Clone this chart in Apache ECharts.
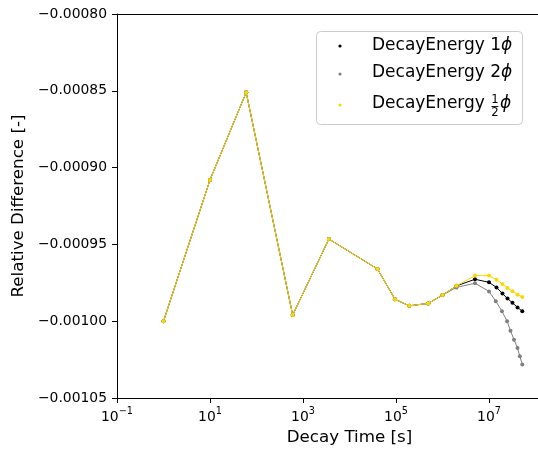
<!DOCTYPE html>
<html>
<head>
<meta charset="utf-8">
<script src="https://cdn.jsdelivr.net/npm/echarts@6/dist/echarts.min.js"></script>
<style>
  html, body { margin: 0; padding: 0; background: #fff; }
  #chart { width: 538px; height: 450px; }
</style>
</head>
<body>
<div id="chart"></div>
<script>
// Decay times [s] and relative differences for each flux scaling
const timesOne = [1, 10, 60, 600, 3600, 4e4, 9.5e4, 1.93e5, 4.95e5, 1e6, 2e6, 5e6, 1e7,
                  1.45e7, 1.95e7, 2.5e7, 3.2e7, 4.1e7, 5.2e7];
const valsOne = [-0.001000, -0.000908, -0.000851, -0.000996, -0.0009465, -0.000966, -0.0009857,
                 -0.000990, -0.0009884, -0.000983, -0.000977, -0.0009727, -0.0009747,
                 -0.000978, -0.000982, -0.0009853, -0.000988, -0.000991, -0.0009935];

const timesTwo = [1, 10, 60, 600, 3600, 4e4, 9.5e4, 1.93e5, 4.95e5, 1e6, 2e6, 5e6, 1e7,
                  1.4e7, 1.9e7, 2.45e7, 2.9e7, 3.45e7, 4.1e7, 4.6e7, 5.2e7];
const valsTwo = [-0.001000, -0.000908, -0.000851, -0.000996, -0.0009465, -0.000966, -0.0009857,
                 -0.000990, -0.0009884, -0.000983, -0.000978, -0.0009753, -0.0009806,
                 -0.000987, -0.0009935, -0.0010000, -0.0010062, -0.0010120, -0.0010174,
                 -0.0010228, -0.0010282];

const timesHalf = [1, 10, 60, 600, 3600, 4e4, 9.5e4, 1.93e5, 4.95e5, 1e6, 2e6, 5e6, 1e7,
                   1.45e7, 1.95e7, 2.5e7, 3.2e7, 4.1e7, 5.2e7];
const valsHalf = [-0.001000, -0.000908, -0.000851, -0.000996, -0.0009465, -0.000966, -0.0009857,
                  -0.000990, -0.0009884, -0.000983, -0.000977, -0.0009703, -0.0009703,
                  -0.000973, -0.0009758, -0.0009784, -0.0009805, -0.0009827, -0.0009842];

const seriesNames = ['DecayEnergy 1ϕ', 'DecayEnergy 2ϕ', 'DecayEnergy ½ϕ'];
const seriesColors = ['#000000', '#808080', '#FFD700'];

const FONT = 'DejaVu Sans';
const MINUS = '\u2212';

function pairs(xs, ys) { return xs.map((x, i) => [x, ys[i]]); }

function lineSeries(name, color, xs, ys, z) {
  return {
    name: name, type: 'line', data: pairs(xs, ys), z: z,
    symbol: 'circle', symbolSize: 4, showSymbol: true,
    itemStyle: { color: color },
    lineStyle: { color: color, width: 1 },
    emphasis: { disabled: true }
  };
}

const chart = echarts.init(document.getElementById('chart'), null, { renderer: 'canvas' });

// hand-drawn legend box, with a stacked 1/2 fraction for the third entry
const lgX = 316, lgY = 31;
const textX = 372;
const legendGraphic = [
  { type: 'rect', shape: { x: lgX + 0.5, y: lgY + 0.5, width: 206, height: 93, r: 4 },
    style: { fill: 'rgba(255,255,255,0.8)', stroke: '#cccccc', lineWidth: 1 }, z: 100 },
  { type: 'circle', shape: { cx: 340, cy: 46, r: 1.6 }, style: { fill: seriesColors[0] }, z: 101 },
  { type: 'circle', shape: { cx: 340, cy: 74, r: 1.6 }, style: { fill: seriesColors[1] }, z: 101 },
  { type: 'circle', shape: { cx: 340, cy: 105, r: 1.6 }, style: { fill: seriesColors[2] }, z: 101 },
  { type: 'text', x: textX, y: 45.5, z: 101,
    style: { text: '{n|DecayEnergy 1}{p|ϕ}', verticalAlign: 'middle',
             rich: { n: { fontFamily: FONT, fontSize: 17, fill: '#000' },
                     p: { fontFamily: FONT, fontSize: 17, fontStyle: 'italic', fill: '#000' } } } },
  { type: 'text', x: textX, y: 73, z: 101,
    style: { text: '{n|DecayEnergy 2}{p|ϕ}', verticalAlign: 'middle',
             rich: { n: { fontFamily: FONT, fontSize: 17, fill: '#000' },
                     p: { fontFamily: FONT, fontSize: 17, fontStyle: 'italic', fill: '#000' } } } },
  { type: 'text', x: textX, y: 103.5, z: 101,
    style: { text: 'DecayEnergy', verticalAlign: 'middle', fontFamily: FONT, fontSize: 17, fill: '#000' } },
  { type: 'text', x: 495, y: 100, z: 101,
    style: { text: '1', align: 'center', verticalAlign: 'middle', fontFamily: FONT, fontSize: 11.7, fill: '#000' } },
  { type: 'line', shape: { x1: 491.5, y1: 106.5, x2: 498.5, y2: 106.5 }, style: { stroke: '#000', lineWidth: 0.9 }, z: 101 },
  { type: 'text', x: 495, y: 112.5, z: 101,
    style: { text: '2', align: 'center', verticalAlign: 'middle', fontFamily: FONT, fontSize: 11.7, fill: '#000' } },
  { type: 'text', x: 500, y: 103.5, z: 101,
    style: { text: 'ϕ', verticalAlign: 'middle', fontFamily: FONT, fontSize: 17, fontStyle: 'italic', fill: '#000' } }
];

const option = {
  animation: false,
  backgroundColor: '#ffffff',
  textStyle: { fontFamily: FONT },
  grid: { left: 117, top: 14, bottom: 52, right: -44, containLabel: false, outerBoundsMode: 'none' },
  xAxis: [
    {
      type: 'log', logBase: 10, min: 0.1, max: 1e9, interval: 2,
      name: 'Decay Time [s]', nameLocation: 'middle', nameGap: 30,
      nameTextStyle: { fontFamily: FONT, fontSize: 16.7, color: '#000' },
      axisLine: { show: true, lineStyle: { color: '#000', width: 1 } },
      axisTick: { show: true, length: 5, lineStyle: { color: '#000', width: 1 } },
      minorTick: { show: false },
      splitLine: { show: false },
      axisLabel: {
        margin: 8, color: '#000', fontFamily: FONT, fontSize: 13.9,
        formatter: function (v) {
          const e = Math.round(Math.log10(v));
          return '{b|10}{s|' + (e < 0 ? MINUS : '') + Math.abs(e) + '}';
        },
        rich: {
          b: { fontFamily: FONT, fontSize: 13.9, color: '#000', lineHeight: 18, verticalAlign: 'bottom' },
          s: { fontFamily: FONT, fontSize: 9.7, color: '#000', lineHeight: 18, verticalAlign: 'top' }
        }
      }
    },
    {
      type: 'log', logBase: 10, min: 0.1, max: 1e9, position: 'top',
      axisLine: { show: true, onZero: false, lineStyle: { color: '#000', width: 1 } },
      axisTick: { show: false }, axisLabel: { show: false }, splitLine: { show: false }
    }
  ],
  yAxis: {
    type: 'value', min: -0.00105, max: -0.00080, interval: 0.00005,
    name: 'Relative Difference [-]', nameLocation: 'middle', nameGap: 86,
    nameTextStyle: { fontFamily: FONT, fontSize: 16.7, color: '#000' },
    axisLine: { show: true, lineStyle: { color: '#000', width: 1 } },
    axisTick: { show: true, length: 5, lineStyle: { color: '#000', width: 1 } },
    splitLine: { show: false },
    axisLabel: {
      margin: 10, color: '#000', fontFamily: FONT, fontSize: 13.9,
      formatter: function (v) { return (v < 0 ? MINUS : '') + Math.abs(v).toFixed(5); }
    }
  },
  series: [
    lineSeries(seriesNames[0], seriesColors[0], timesOne, valsOne, 2),
    lineSeries(seriesNames[1], seriesColors[1], timesTwo, valsTwo, 3),
    lineSeries(seriesNames[2], seriesColors[2], timesHalf, valsHalf, 4)
  ],
  graphic: legendGraphic
};

chart.setOption(option);
</script>
</body>
</html>
